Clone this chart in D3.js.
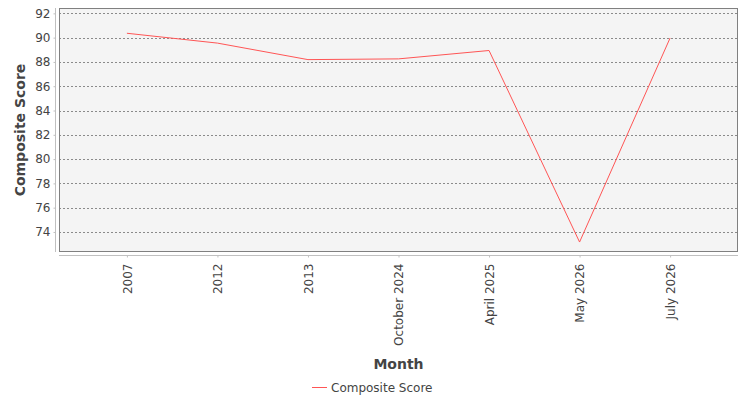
<!DOCTYPE html>
<html>
<head>
    <meta charset="utf-8">
    <script src="https://cdn.jsdelivr.net/npm/d3@7"></script>
    <style>
        body { margin: 0; background: #ffffff; font-family: 'DejaVu Sans', sans-serif; }
    </style>
</head>
<body>
    <svg id="chart" width="750" height="400"></svg>
    <script>
        // data
        var months = ["2007", "2012", "2013", "October 2024", "April 2025", "May 2026", "July 2026"];
        var scores = [90.36, 89.55, 88.19, 88.25, 88.94, 73.17, 89.97];
        var yTicks = [74, 76, 78, 80, 82, 84, 86, 88, 90, 92];
        var seriesName = "Composite Score";

        var svg = d3.select("#chart");
        var plot = { left: 59, right: 738, top: 8, bottom: 252 };

        var x = d3.scalePoint()
            .domain(months)
            .range([plot.left, plot.right])
            .padding(0.75);

        var y = d3.scaleLinear()
            .domain([72.35, 92.44])
            .range([plot.bottom, plot.top]);

        // plot background
        svg.append("rect")
            .attr("x", plot.left)
            .attr("y", plot.top)
            .attr("width", plot.right - plot.left)
            .attr("height", plot.bottom - plot.top)
            .style("fill", "#f4f4f4");

        // grid lines
        svg.append("g")
            .selectAll("line")
            .data(yTicks)
            .enter()
            .append("line")
            .attr("x1", plot.left)
            .attr("x2", plot.right)
            .attr("y1", function (d) { return Math.round(y(d)) + 0.5; })
            .attr("y2", function (d) { return Math.round(y(d)) + 0.5; })
            .style("stroke", "#8a8a8a")
            .style("stroke-width", "1px")
            .style("stroke-dasharray", "2,2");

        // plot border
        svg.append("rect")
            .attr("x", plot.left + 0.5)
            .attr("y", plot.top + 0.5)
            .attr("width", plot.right - plot.left - 1)
            .attr("height", plot.bottom - plot.top - 1)
            .style("fill", "none")
            .style("stroke", "#808080")
            .style("stroke-width", "1px");

        // y axis
        var yAxis = d3.axisLeft(y)
            .tickValues(yTicks)
            .tickSize(2)
            .tickPadding(3);

        var gy = svg.append("g")
            .attr("transform", "translate(" + (plot.left - 3.5) + ",0)")
            .call(yAxis);
        gy.select(".domain")
            .attr("d", "M0," + plot.top + "V" + plot.bottom)
            .style("stroke", "#c0c0c0");
        gy.selectAll(".tick line").style("stroke", "#c0c0c0");
        gy.selectAll("text")
            .style("font-family", "DejaVu Sans")
            .style("font-size", "12px")
            .style("fill", "#444444");

        // x axis
        var xAxis = d3.axisBottom(x)
            .tickSize(2)
            .tickPadding(4);

        var gx = svg.append("g")
            .attr("transform", "translate(0," + (plot.bottom + 3.5) + ")")
            .call(xAxis);
        gx.select(".domain")
            .attr("d", "M" + plot.left + ",0H" + plot.right)
            .style("stroke", "#c0c0c0");
        gx.selectAll(".tick line").style("stroke", "#c0c0c0");
        gx.selectAll("text")
            .style("font-family", "DejaVu Sans")
            .style("font-size", "12px")
            .style("fill", "#444444")
            .attr("transform", "rotate(-90)")
            .attr("text-anchor", "end")
            .attr("dy", "0.35em")
            .attr("x", -8)
            .attr("y", 0);

        // series line
        var line = d3.line()
            .x(function (d, i) { return x(months[i]); })
            .y(function (d) { return y(d); });

        svg.append("path")
            .datum(scores)
            .attr("d", line)
            .style("fill", "none")
            .style("stroke", "#ff5555")
            .style("stroke-width", "1px");

        // axis titles
        svg.append("text")
            .attr("transform", "rotate(-90)")
            .attr("x", -(plot.top + plot.bottom) / 2)
            .attr("y", 25)
            .attr("text-anchor", "middle")
            .style("font-family", "DejaVu Sans")
            .style("font-weight", "bold")
            .style("font-size", "14px")
            .style("fill", "#444444")
            .text("Composite Score");

        svg.append("text")
            .attr("x", (plot.left + plot.right) / 2)
            .attr("y", 369)
            .attr("text-anchor", "middle")
            .style("font-family", "DejaVu Sans")
            .style("font-weight", "bold")
            .style("font-size", "14px")
            .style("fill", "#444444")
            .text("Month");

        // legend
        var legend = svg.append("g").attr("transform", "translate(312,387.5)");
        legend.append("line")
            .attr("x1", 0)
            .attr("x2", 15)
            .style("stroke", "#ff5555")
            .style("stroke-width", "1px");
        legend.append("text")
            .attr("x", 19)
            .attr("y", 4.5)
            .style("font-family", "DejaVu Sans")
            .style("font-size", "12px")
            .style("fill", "#444444")
            .text(seriesName);
    </script>
</body>
</html>
